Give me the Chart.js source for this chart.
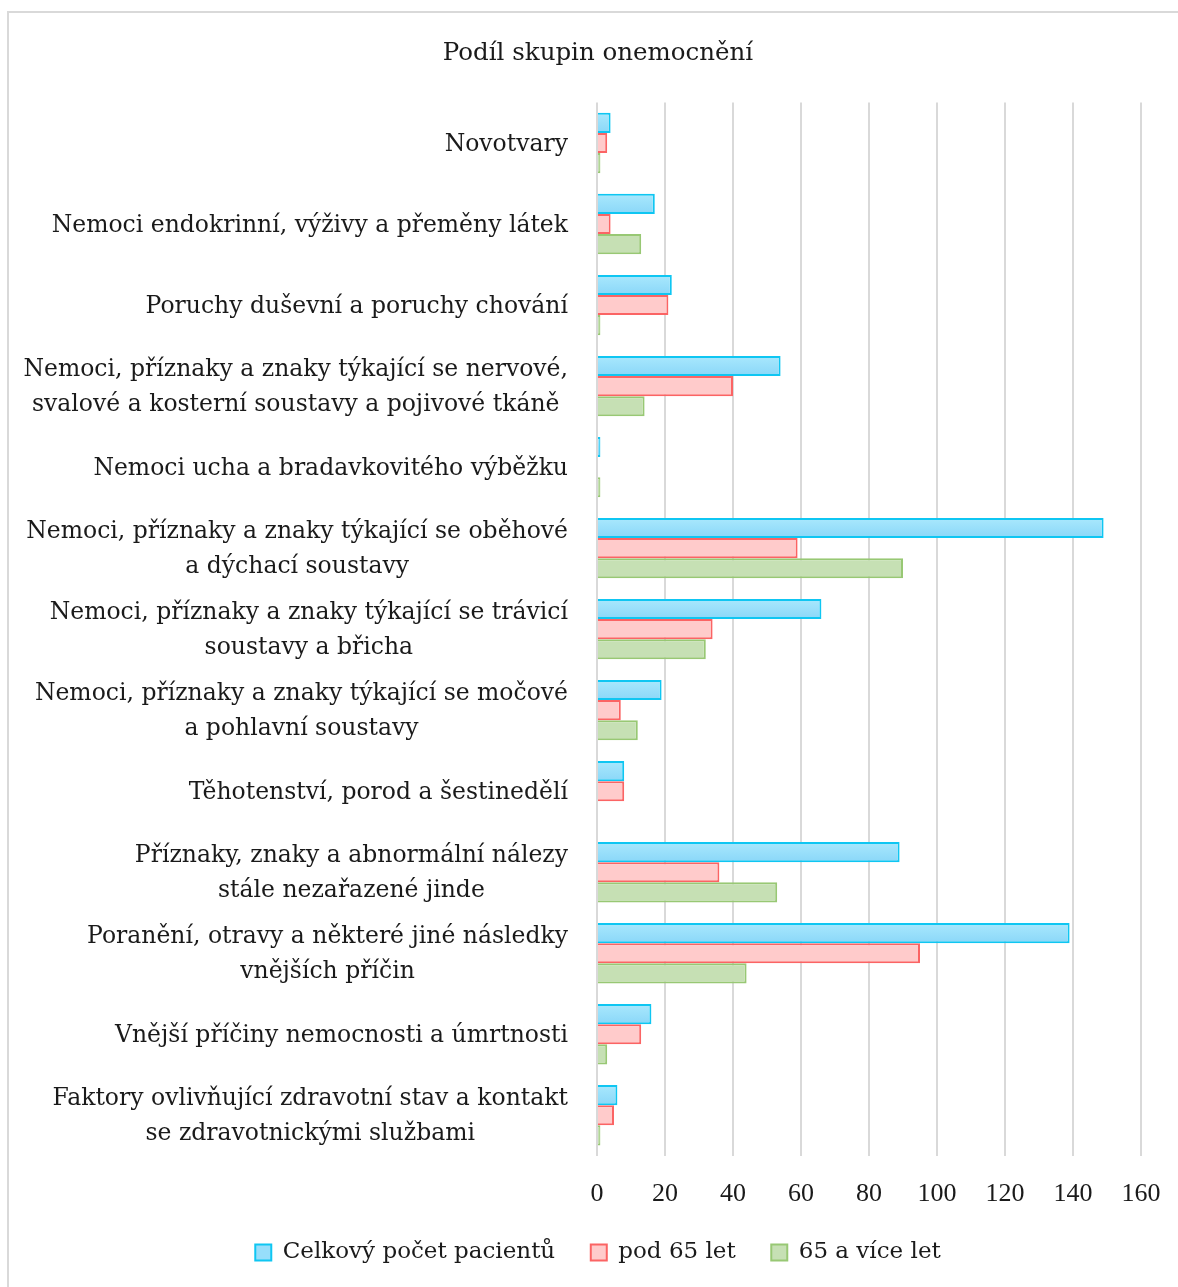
<!DOCTYPE html>
<html>
<head>
<meta charset="utf-8">
<title>Podíl skupin onemocnění</title>
<script src="https://cdn.jsdelivr.net/npm/chart.js@4/dist/chart.umd.min.js"></script>
<style>
  html, body { margin: 0; padding: 0; background: #ffffff; overflow: hidden; }
  #wrap { position: absolute; left: 0; top: 0; width: 1178px; height: 1287px; }
</style>
</head>
<body>
<div id="wrap"><canvas id="chart" width="1178" height="1287"></canvas></div>
<script>
// Disease groups (multi-line labels are arrays of lines)
const categories = [
  ["Novotvary"],
  ["Nemoci endokrinní, výživy a přeměny látek"],
  ["Poruchy duševní a poruchy chování"],
  ["Nemoci, příznaky a znaky týkající se nervové,", "svalové a kosterní soustavy a pojivové tkáně"],
  ["Nemoci ucha a bradavkovitého výběžku"],
  ["Nemoci, příznaky a znaky týkající se oběhové", "a dýchací soustavy"],
  ["Nemoci, příznaky a znaky týkající se trávicí", "soustavy a břicha"],
  ["Nemoci, příznaky a znaky týkající se močové", "a pohlavní soustavy"],
  ["Těhotenství, porod a šestinedělí"],
  ["Příznaky, znaky a abnormální nálezy", "stále nezařazené jinde"],
  ["Poranění, otravy a některé jiné následky", "vnějších příčin"],
  ["Vnější příčiny nemocnosti a úmrtnosti"],
  ["Faktory ovlivňující zdravotní stav a kontakt", "se zdravotnickými službami"]
];

const seriesNames = ["Celkový počet pacientů", "pod 65 let", "65 a více let"];
const totalPatients = [4, 17, 22, 54, 1, 149, 66, 19, 8, 89, 139, 16, 6];
const under65       = [3, 4, 21, 40, 0, 59, 34, 7, 8, 36, 95, 13, 5];
const over65        = [1, 13, 1, 14, 1, 90, 32, 12, 0, 53, 44, 3, 1];

const xTicks = { min: 0, max: 160, step: 20 };
const titleText = "Podíl skupin onemocnění";

const FONT = "'DejaVu Serif', 'Liberation Serif', serif";
const TICK_FONT = "'Liberation Serif', 'DejaVu Serif', serif";
const LABEL_SIZE = 23.5;
const TEXT_COLOR = "#1a1a1a";
const GRID_COLOR = "#d9d9d9";

// White background and the light frame around the chart
const framePlugin = {
  id: 'frame',
  beforeDraw(chart) {
    const ctx = chart.ctx;
    ctx.save();
    ctx.fillStyle = '#ffffff';
    ctx.fillRect(0, 0, chart.width, chart.height);
    ctx.strokeStyle = GRID_COLOR;
    ctx.lineWidth = 2;
    ctx.beginPath();
    ctx.moveTo(8, chart.height + 5);
    ctx.lineTo(8, 12);
    ctx.lineTo(chart.width + 5, 12);
    ctx.stroke();
    ctx.restore();
  }
};

// Soft top-to-bottom shading on the first series' bars
const shadingPlugin = {
  id: 'barShading',
  beforeDatasetDraw(chart, args) {
    if (args.index !== 0) return;
    const ctx = chart.ctx;
    args.meta.data.forEach(el => {
      const top = el.y - el.height / 2;
      const g = ctx.createLinearGradient(0, top, 0, top + el.height);
      g.addColorStop(0, '#a9e8fd');
      g.addColorStop(1, '#8ad7f8');
      el.options = Object.assign({}, el.options, { backgroundColor: g });
    });
  }
};

// Category labels: block right-aligned to the axis, lines centred within the block
const categoryLabelPlugin = {
  id: 'categoryLabels',
  afterDraw(chart) {
    const ctx = chart.ctx;
    const yScale = chart.scales.y;
    const rightEdge = chart.chartArea.left - 29;
    const lineHeight = 35;
    ctx.save();
    ctx.font = LABEL_SIZE + "px " + FONT;
    ctx.fillStyle = TEXT_COLOR;
    ctx.textAlign = 'center';
    ctx.textBaseline = 'middle';
    categories.forEach((lines, i) => {
      const yc = yScale.getPixelForTick(i) + 1.5;
      const w = Math.max(...lines.map(l => ctx.measureText(l).width));
      const cx = rightEdge - w / 2;
      lines.forEach((line, j) => {
        const y = yc + (j - (lines.length - 1) / 2) * lineHeight;
        ctx.fillText(line, cx, y);
      });
    });
    ctx.restore();
  }
};

const ctx = document.getElementById('chart').getContext('2d');
new Chart(ctx, {
  type: 'bar',
  data: {
    labels: categories,
    datasets: [
      {
        label: seriesNames[0],
        data: totalPatients,
        backgroundColor: '#97defb',
        borderColor: '#0fc6f2',
        borderWidth: 2
      },
      {
        label: seriesNames[1],
        data: under65,
        backgroundColor: '#ffcbcb',
        borderColor: '#fb6464',
        borderWidth: 2
      },
      {
        label: seriesNames[2],
        data: over65,
        backgroundColor: '#c6e0b4',
        borderColor: '#98c874',
        borderWidth: 2
      }
    ]
  },
  options: {
    indexAxis: 'y',
    responsive: false,
    animation: false,
    devicePixelRatio: 1,
    layout: { padding: { left: 48, right: 30, top: 0, bottom: 13 } },
    datasets: {
      bar: { barPercentage: 1.0, categoryPercentage: 0.745 }
    },
    scales: {
      x: {
        min: xTicks.min,
        max: xTicks.max,
        ticks: {
          stepSize: xTicks.step,
          color: TEXT_COLOR,
          font: { family: TICK_FONT, size: 26 },
          padding: 23
        },
        grid: { color: GRID_COLOR, lineWidth: 2, drawTicks: false },
        border: { display: false },
        afterFit(scale) { scale.paddingRight = 37; }
      },
      y: {
        ticks: { display: false },
        grid: { display: false },
        border: { display: false },
        afterFit(scale) { scale.width = 549; }
      }
    },
    plugins: {
      title: {
        display: true,
        text: titleText,
        color: TEXT_COLOR,
        font: { family: FONT, size: 24.5, weight: 'normal' },
        padding: { top: 39, bottom: 34.1 }
      },
      legend: {
        position: 'bottom',
        labels: {
          boxWidth: 16,
          boxHeight: 16,
          color: TEXT_COLOR,
          font: { family: FONT, size: 23 },
          padding: 8,
          generateLabels(chart) {
            const items = Chart.defaults.plugins.legend.labels.generateLabels(chart);
            // wider gap after every entry except the last
            items.forEach((item, i) => {
              if (i < items.length - 1) item.text += '\u2003\u2009';
            });
            return items;
          }
        }
      },
      tooltip: { enabled: false }
    }
  },
  plugins: [framePlugin, shadingPlugin, categoryLabelPlugin]
});
</script>
</body>
</html>
